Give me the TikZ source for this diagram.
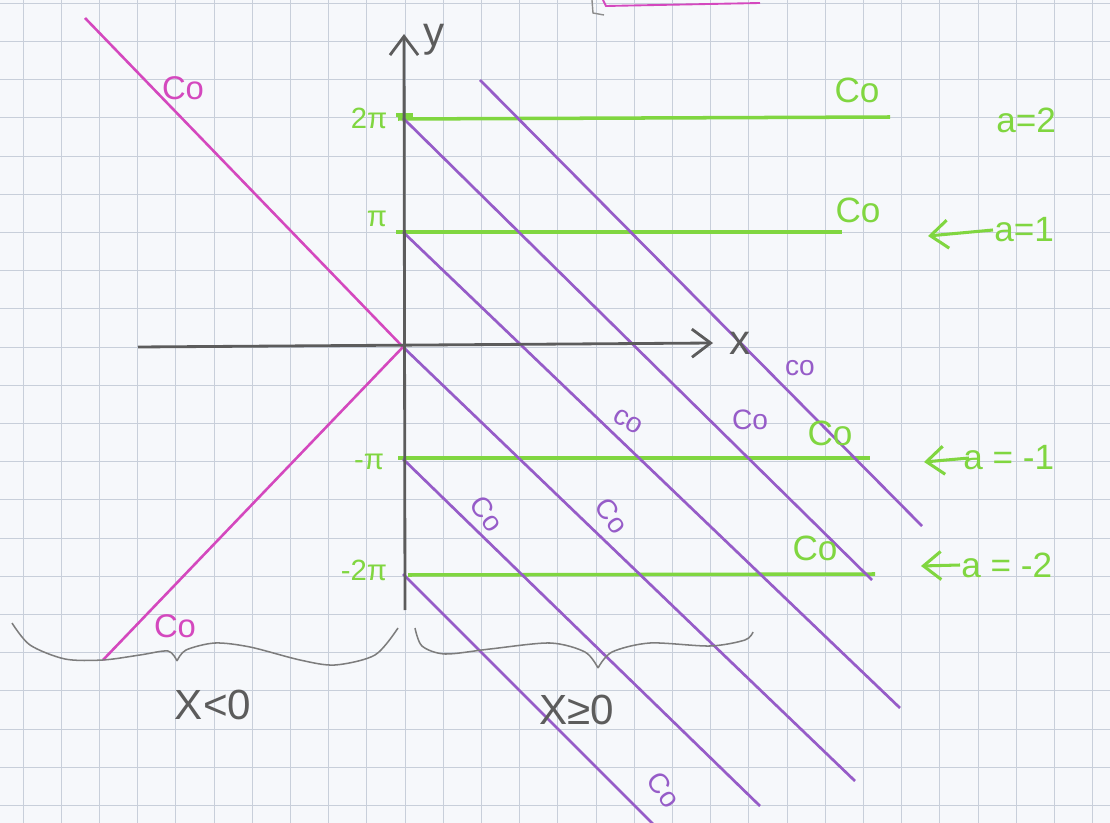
\documentclass[tikz,border=0pt]{standalone}
\usepackage{fontspec}
\setmainfont{Liberation Sans}
\usetikzlibrary{arrows.meta}
\definecolor{paper}{RGB}{246,248,251}
\definecolor{gridc}{RGB}{200,207,218}
\definecolor{pencil}{RGB}{92,92,92}
\definecolor{lgreen}{RGB}{128,214,64}
\definecolor{lpurple}{RGB}{150,92,200}
\definecolor{lmag}{RGB}{212,72,190}
\tikzset{
  axisline/.style={draw=pencil,line width=2.4pt,-{Straight Barb[length=16pt,width=24pt]}},
  purpleline/.style={draw=lpurple,line width=2.3pt},
  greenline/.style={draw=lgreen,line width=3pt},
  magline/.style={draw=lmag,line width=2.2pt},
  bracecurve/.style={draw=pencil!80,line width=1.3pt},
  garrow/.style={draw=lgreen,line width=2.6pt,-{Straight Barb[length=15pt,width=24pt]}},
  glabel/.style={text=lgreen,font=\fontsize{30}{34}\selectfont,inner sep=1pt},
  gsmall/.style={text=lgreen,font=\fontsize{25}{29}\selectfont,inner sep=1pt},
  plabel/.style={text=lpurple,font=\fontsize{24}{28}\selectfont,inner sep=0pt},
  mlabel/.style={text=lmag,font=\fontsize{28}{32}\selectfont,inner sep=1pt},
  penlabel/.style={text=pencil,font=\fontsize{36}{40}\selectfont,inner sep=1pt}
}
\begin{document}
\begin{tikzpicture}[x=0.03cm,y=-0.03cm]
\path[use as bounding box,fill=paper] (0,0) rectangle (1110,823);
\clip (0,0) rectangle (1110,823);
% graph paper
\foreach \i in {-10,...,18} \draw[gridc,line width=0.7pt] ({405+38.2*\i},0) -- ({405+38.2*\i},823);
\foreach \j in {-9,...,12} \draw[gridc,line width=0.7pt] (0,{347+38.2*\j}) -- (1110,{347+38.2*\j});
% top corner of a box
\draw[pencil!70,line width=1.2pt] (592,0) -- (593,13) -- (604,15);
\draw[lmag,line width=1.6pt] (603,0) -- (606,6) -- (760,3);
% coordinates
\coordinate (O) at (403,347);
\coordinate (ybot) at (405,610);
\coordinate (ytop) at (404,34);
\coordinate (xleft) at (138,347);
\coordinate (xright) at (713,343);
% green level lines
\coordinate (g2a) at (398,119); \coordinate (g2b) at (890,117);
\coordinate (g1a) at (396,232); \coordinate (g1b) at (842,232);
\coordinate (gm1a) at (398,458); \coordinate (gm1b) at (870,458);
\coordinate (gm2a) at (408,575); \coordinate (gm2b) at (875,574);
\draw[greenline] (g2a) -- (g2b);
\draw[greenline] (g1a) -- (g1b);
\draw[greenline] (gm1a) -- (gm1b);
\draw[greenline] (gm2a) -- (gm2b);
\draw[lgreen,line width=3.5pt] (396,115) -- (413,115);
% purple lines x+y=c
\coordinate (p3a) at (480,80);   \coordinate (p3b) at (922,526);
\coordinate (p2a) at (403,118);  \coordinate (p2b) at (872,580);
\coordinate (p1a) at (403,232);  \coordinate (p1b) at (900,708);
\coordinate (p0b) at (855,781);
\coordinate (pm1a) at (403,459); \coordinate (pm1b) at (760,806);
\coordinate (pm2a) at (403,574); \coordinate (pm2b) at (655,826);
\draw[purpleline] (p3a) -- (p3b);
\draw[purpleline] (p2a) -- (p2b);
\draw[purpleline] (p1a) -- (p1b);
\draw[purpleline] (O) -- (p0b);
\draw[purpleline] (pm1a) -- (pm1b);
\draw[purpleline] (pm2a) -- (pm2b);
% magenta lines
\coordinate (m1) at (85,18);
\coordinate (m2) at (103,660);
\draw[magline] (m1) -- (O);
\draw[magline] (O) -- (m2);
% axes
\draw[axisline] (xleft) -- (xright);
\draw[axisline] (ybot) -- (ytop);
\node[penlabel] (xlab) at (740,343) {x};
\node[penlabel] (ylab) at (434,40) {y};
% tick labels
\node[gsmall] (t2) at (369,118) {2π};
\node[gsmall] (t1) at (377,219) {π};
\node[gsmall] (tm1) at (369,462) {-π};
\node[gsmall] (tm2) at (364,570) {-2π};
% green C0 labels
\node[glabel] (c2) at (857,90) {Co};
\node[glabel] (c1) at (858,210) {Co};
\node[glabel] (cm1) at (830,433) {Co};
\node[glabel] (cm2) at (815,548) {Co};
% a values
\node[glabel,anchor=west] (a2) at (995,120) {a=2};
\node[glabel,anchor=west] (a1) at (993,230) {a=1};
\node[glabel,anchor=west] (am1) at (962,458) {a = -1};
\node[glabel,anchor=west] (am2) at (960,565) {a = -2};
\coordinate (a1tip) at (928,236);
\coordinate (am1tip) at (924,462);
\coordinate (am2tip) at (921,566);
\draw[garrow] (a1.west) -- (a1tip);
\draw[garrow] ([xshift=6pt]am1.west) -- (am1tip);
\draw[garrow] (am2.west) -- (am2tip);
% purple labels
\node[plabel] (q1) at (800,368) {co};
\node[plabel] (q2) at (750,420) {Co};
\node[plabel,rotate=-30] (q3) at (628,421) {co};
\node[plabel,rotate=-55] (q4) at (487,514) {Co};
\node[plabel,rotate=-55] (q5) at (612,516) {Co};
\node[plabel,rotate=-55] (q6) at (664,790) {Co};
% magenta labels
\node[mlabel] (n1) at (183,88) {Co};
\node[mlabel] (n2) at (175,626) {Co};
% braces
\draw[bracecurve] plot[smooth] coordinates {(12,623) (30,645) (65,659) (103,660) (140,655) (168,651) (177,661)};
\draw[bracecurve] plot[smooth] coordinates {(177,661) (186,650) (215,643) (250,647) (300,660) (335,665) (375,655) (398,628)};
\draw[bracecurve] plot[smooth] coordinates {(415,628) (422,646) (445,654) (490,649) (550,643) (585,652) (598,668)};
\draw[bracecurve] plot[smooth] coordinates {(598,668) (612,652) (650,643) (710,646) (745,640) (753,632)};
\node[penlabel] (neg) at (213,705) {X<0};
\node[penlabel] (pos) at (577,710) {X≥0};
\end{tikzpicture}
\end{document}
